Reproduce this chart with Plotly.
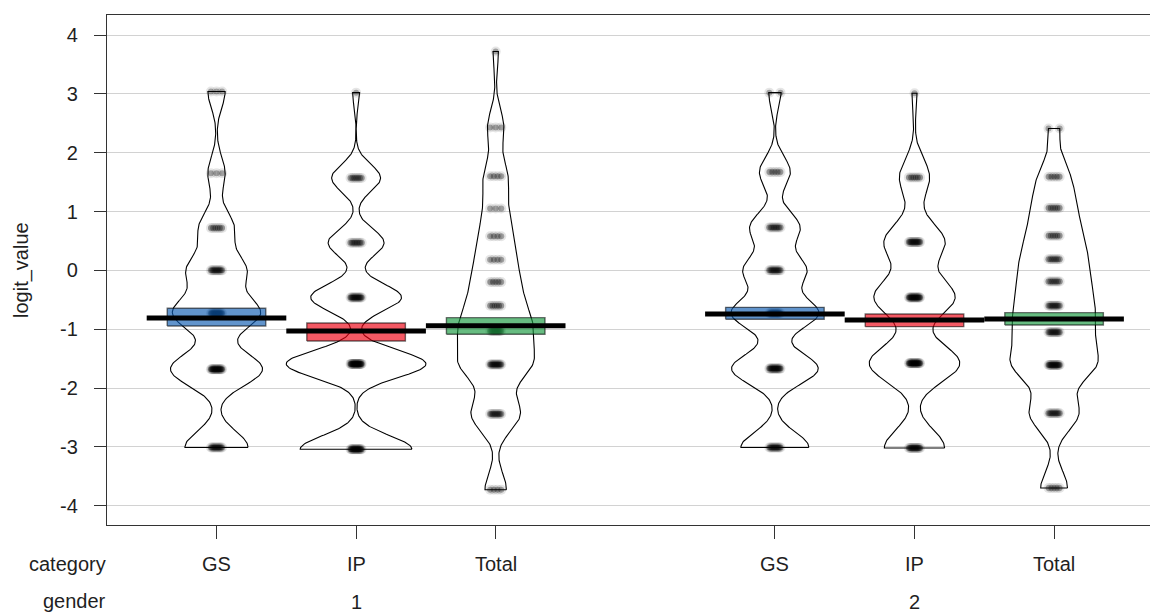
import numpy as np
import plotly.graph_objects as go

# ---------------- data ----------------
categories = ["GS", "IP", "Total"]
genders = ["1", "2"]

# distinct logit values and how many observations sit on each
gs_1_values = [3.04, 1.65, 0.72, 0.0, -0.73, -1.68, -3.01]
gs_1_counts = [3, 3, 6, 10, 15, 16, 11]
ip_1_values = [3.02, 1.57, 0.47, -0.46, -1.59, -3.04]
ip_1_counts = [1, 7, 8, 13, 20, 16]
total_1_values = [3.72, 2.43, 1.60, 1.05, 0.58, 0.18, -0.20, -0.60, -1.03, -1.60, -2.44, -3.73]
total_1_counts = [1, 3, 4, 3, 4, 4, 5, 6, 10, 12, 9, 4]

gs_2_values = [3.02, 1.67, 0.73, 0.0, -0.73, -1.67, -3.01]
gs_2_counts = [2, 5, 8, 10, 14, 14, 11]
ip_2_values = [3.01, 1.58, 0.48, -0.46, -1.58, -3.02]
ip_2_counts = [1, 6, 12, 16, 18, 12]
total_2_values = [2.41, 1.59, 1.06, 0.59, 0.19, -0.19, -0.60, -1.05, -1.61, -2.43, -3.70]
total_2_counts = [2, 5, 6, 6, 7, 7, 9, 10, 14, 9, 5]

# mean line and inference band per bean (order: GS1, IP1, Total1, GS2, IP2, Total2)
bean_means = [-0.81, -1.03, -0.94, -0.742, -0.843, -0.827]
bean_band_low = [-0.946, -1.20, -1.087, -0.832, -0.957, -0.929]
bean_band_high = [-0.645, -0.895, -0.804, -0.629, -0.742, -0.719]

# kernel bandwidth used for each bean's density
bean_bandwidths = [0.28, 0.23, 0.30, 0.26, 0.32, 0.30]

y_tick_values = [-4, -3, -2, -1, 0, 1, 2, 3, 4]
y_tick_labels = ["-4", "-3", "-2", "-1", "0", "1", "2", "3", "4"]

# ---------------- styling ----------------
FONT = "Liberation Sans, Arial, sans-serif"
TXT = "#1f1f1f"
base_colors = {"GS": (12, 91, 176), "IP": (238, 0, 17), "Total": (21, 152, 61)}

bean_values = [gs_1_values, ip_1_values, total_1_values, gs_2_values, ip_2_values, total_2_values]
bean_counts = [gs_1_counts, ip_1_counts, total_1_counts, gs_2_counts, ip_2_counts, total_2_counts]

beans = []
k = 0
for gi, g in enumerate(genders):
    for ci, c in enumerate(categories):
        pos = gi * (len(categories) + 1) + ci + 1
        beans.append(dict(gender=g, cat=c, pos=pos,
                          values=np.array(bean_values[k], float),
                          counts=np.array(bean_counts[k], float),
                          bw=bean_bandwidths[k], mean=bean_means[k],
                          lo=bean_band_low[k], hi=bean_band_high[k]))
        k += 1

# count-weighted gaussian kernel density, truncated to the data range
for b in beans:
    ys = np.linspace(b["values"].min(), b["values"].max(), 400)
    h = b["bw"]
    dens = np.zeros_like(ys)
    for v, n in zip(b["values"], b["counts"]):
        dens += n * np.exp(-0.5 * ((ys - v) / h) ** 2) / (h * np.sqrt(2 * np.pi))
    b["ys"] = ys
    b["dens"] = dens

gmax = max(b["dens"].max() for b in beans)
WIDTH_MAX = 0.5

fig = go.Figure()

# bean outlines
for b in beans:
    w = b["dens"] / gmax * WIDTH_MAX
    xs = np.concatenate([b["pos"] + w, (b["pos"] - w)[::-1], [b["pos"] + w[0]]])
    ys = np.concatenate([b["ys"], b["ys"][::-1], [b["ys"][0]]])
    fig.add_trace(go.Scatter(x=xs, y=ys, mode="lines",
                             line=dict(color="black", width=1.1),
                             hoverinfo="skip", showlegend=False))

# raw points (spread horizontally): soft halo + core
for b in beans:
    px, py = [], []
    for v, n in zip(b["values"], b["counts"]):
        n = int(n)
        offs = np.linspace(-0.04, 0.04, n) if n > 1 else np.array([0.0])
        px.extend(b["pos"] + offs)
        py.extend([v] * n)
    fig.add_trace(go.Scatter(x=px, y=py, mode="markers",
                             marker=dict(color="black", size=10, opacity=0.10,
                                         line=dict(width=0)),
                             hoverinfo="skip", showlegend=False))
    fig.add_trace(go.Scatter(x=px, y=py, mode="markers",
                             marker=dict(color="black", size=6, opacity=0.30,
                                         line=dict(width=0)),
                             hoverinfo="skip", showlegend=False))

# inference bands
BAND_HALF = 0.353
for b in beans:
    r, g_, bl = base_colors[b["cat"]]
    x0, x1 = b["pos"] - BAND_HALF, b["pos"] + BAND_HALF
    fig.add_trace(go.Scatter(x=[x0, x1, x1, x0, x0],
                             y=[b["lo"], b["lo"], b["hi"], b["hi"], b["lo"]],
                             mode="lines", fill="toself",
                             fillcolor=f"rgba({r},{g_},{bl},0.65)",
                             line=dict(color="rgba(0,0,0,0.55)", width=1.4),
                             hoverinfo="skip", showlegend=False))

# mean lines
mx, my = [], []
for b in beans:
    mx += [b["pos"] - 0.5, b["pos"] + 0.5, None]
    my += [b["mean"], b["mean"], None]
fig.add_trace(go.Scatter(x=mx, y=my, mode="lines",
                         line=dict(color="black", width=5),
                         hoverinfo="skip", showlegend=False))

# ---------------- layout ----------------
L, R, T, B = 107, 0, 15, 88
W, H = 1150, 613
ph = H - T - B
pw = W - L - R

def py_paper(pix):
    return (H - B - pix) / ph

annotations = []
for b in beans:
    annotations.append(dict(x=b["pos"], xref="x", y=py_paper(564), yref="paper",
                            text=b["cat"], showarrow=False, xanchor="center",
                            yanchor="middle", font=dict(size=20, color=TXT, family=FONT)))
for gi, g in enumerate(genders):
    mid = gi * (len(categories) + 1) + (len(categories) + 1) / 2
    annotations.append(dict(x=mid, xref="x", y=py_paper(602), yref="paper",
                            text=g, showarrow=False, xanchor="center",
                            yanchor="middle", font=dict(size=20, color=TXT, family=FONT)))
annotations.append(dict(x=0, xref="paper", y=py_paper(564), yref="paper", text="category",
                        showarrow=False, xanchor="right", yanchor="middle", xshift=1,
                        font=dict(size=20, color=TXT, family=FONT)))
annotations.append(dict(x=0, xref="paper", y=py_paper(601), yref="paper", text="gender",
                        showarrow=False, xanchor="right", yanchor="middle", xshift=1,
                        font=dict(size=20, color=TXT, family=FONT)))
annotations.append(dict(x=(21 - L) / pw, xref="paper", y=0.5, yref="paper",
                        text="logit_value", textangle=-90, showarrow=False,
                        xanchor="center", yanchor="middle",
                        font=dict(size=20, color=TXT, family=FONT)))

tick_positions = [b["pos"] for b in beans]

fig.update_layout(
    width=W, height=H,
    margin=dict(l=L, r=R, t=T, b=B, pad=0),
    paper_bgcolor="white", plot_bgcolor="white",
    showlegend=False,
    font=dict(family=FONT, size=20, color=TXT),
    annotations=annotations,
    xaxis=dict(range=[0.2156, 7.687], showgrid=False, zeroline=False,
               showline=True, mirror=True, linecolor="#333333", linewidth=1.3,
               ticks="outside", tickvals=tick_positions, ticklen=13,
               tickcolor="#333333", tickwidth=1.3, showticklabels=False),
    yaxis=dict(range=[-4.328, 4.34], tickvals=y_tick_values, ticktext=y_tick_labels,
               showgrid=True, gridcolor="#d2d2d2", gridwidth=1.2, zeroline=False,
               showline=True, mirror=False, linecolor="#333333", linewidth=1.3,
               ticks="outside", ticklen=12, tickcolor="#333333", tickwidth=1.3,
               ticklabelstandoff=12,
               tickfont=dict(size=20, color=TXT, family=FONT)),
)

fig.write_html("out.html")
